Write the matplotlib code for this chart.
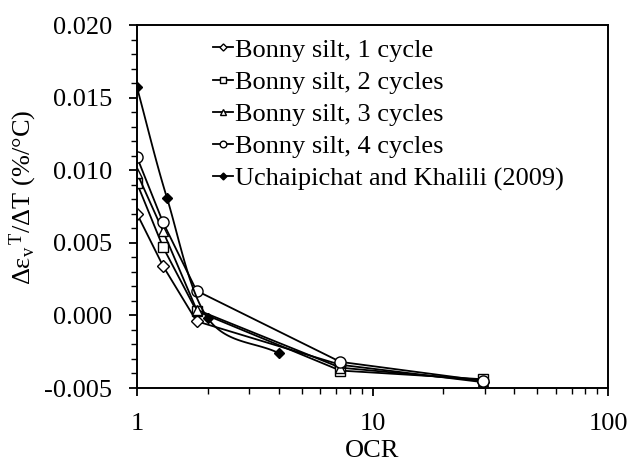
import numpy as np
import matplotlib
matplotlib.use("Agg")
import matplotlib.pyplot as plt
from matplotlib.ticker import MultipleLocator, FixedLocator, NullFormatter
from matplotlib.lines import Line2D

plt.rcParams['font.family'] = ['Liberation Serif', 'DejaVu Serif']
plt.rcParams['mathtext.fontset'] = 'custom'
plt.rcParams['mathtext.rm'] = 'Liberation Serif'
plt.rcParams['mathtext.it'] = 'Liberation Serif:italic'

ocr_bonny = [1.0, 1.29, 1.79, 7.3, 29.5]
bonny_1 = [0.0070, 0.0034, -0.0004, -0.0034, -0.0046]
bonny_2 = [0.0091, 0.0047, 0.0003, -0.0038, -0.0044]
bonny_3 = [0.0098, 0.0058, 0.0004, -0.0036, -0.0045]
bonny_4 = [0.0109, 0.0064, 0.0017, -0.0032, -0.0045]
ocr_uk = [1.0, 1.34, 2.0, 4.0]
uk = [0.0157, 0.0081, -0.0002, -0.0026]

labels = ["Bonny silt, 1 cycle", "Bonny silt, 2 cycles", "Bonny silt, 3 cycles",
          "Bonny silt, 4 cycles", "Uchaipichat and Khalili (2009)"]

fig = plt.figure(figsize=(6.27, 4.61), dpi=100)
ax = fig.add_axes([137 / 627, 73 / 461, 471 / 627, 363 / 461])

fs = 19
kw = dict(color='black', lw=1.3, mfc='white', mec='black', mew=1.0)
handles = []
for yv, m, ms, lab in [(bonny_1, 'D', 6, labels[0]), (bonny_2, 's', 7, labels[1]),
                       (bonny_3, '^', 7.5, labels[2]), (bonny_4, 'o', 8, labels[3])]:
    ax.plot(ocr_bonny, yv, marker=m, ms=ms, **kw)
    handles.append(Line2D([], [], marker=m, ms=ms * 0.6, label=lab, **kw))

# Smoothed (Catmull-Rom) curve through the literature data, in log-x display space
px = np.log10(ocr_uk)
py = np.array(uk) / 0.025 * 0.77
P = np.column_stack([px, py])
Pe = np.vstack([P[0] - (P[1] - P[0]), P, P[-1] + (P[-1] - P[-2])])
curve = []
t = np.linspace(0, 1, 30)
for i in range(1, len(Pe) - 2):
    p0, p1, p2, p3 = Pe[i - 1], Pe[i], Pe[i + 1], Pe[i + 2]
    seg = 0.5 * ((2 * p1)[None, :] + (-p0 + p2)[None, :] * t[:, None]
                 + (2 * p0 - 5 * p1 + 4 * p2 - p3)[None, :] * t[:, None] ** 2
                 + (-p0 + 3 * p1 - 3 * p2 + p3)[None, :] * t[:, None] ** 3)
    curve.append(seg)
curve = np.vstack(curve)
ax.plot(10 ** curve[:, 0], curve[:, 1] * 0.025 / 0.77, color='black', lw=1.3)
ax.plot(ocr_uk, uk, ls='none', marker='D', ms=5.5, mfc='black', mec='black')
handles.append(Line2D([], [], color='black', lw=1.3, marker='D', ms=3.5, mfc='black',
                      mec='black', label=labels[4]))

ax.set_xscale('log')
ax.set_xlim(1, 100)
ax.set_ylim(-0.005, 0.020)
ax.yaxis.set_minor_locator(MultipleLocator(0.001))
ax.set_yticks([-0.005, 0.0, 0.005, 0.010, 0.015, 0.020])
ax.set_yticklabels(["-0.005", "0.000", "0.005", "0.010", "0.015", "0.020"])
ax.xaxis.set_major_locator(FixedLocator([1, 10, 100]))
ax.set_xticklabels(["1", "10", "100"])
ax.xaxis.set_minor_locator(FixedLocator([i * d for d in (1, 10) for i in range(2, 10)]))
ax.xaxis.set_minor_formatter(NullFormatter())

for s in ax.spines.values():
    s.set_linewidth(1.4)
ax.tick_params(which='major', direction='out', length=6, width=1.3, labelsize=fs, pad=12)
ax.tick_params(which='minor', direction='out', length=4.5, width=1.0)

ax.set_xlabel("OCR", fontsize=fs)
ax.xaxis.set_label_coords(0.5, -0.143)
ax.set_ylabel(r"Δε$_\mathregular{v}$$^{\,\mathregular{T}}$/ΔT (%/°C)", fontsize=fs)
ax.yaxis.set_label_coords(-0.208, 0.526)

leg = ax.legend(handles=handles, loc='upper left', bbox_to_anchor=(0.139, 0.993), frameon=False,
                fontsize=fs, handlelength=0.75, handletextpad=0.1, labelspacing=0.33,
                borderaxespad=0)

fig.savefig("out.png", dpi=100)
